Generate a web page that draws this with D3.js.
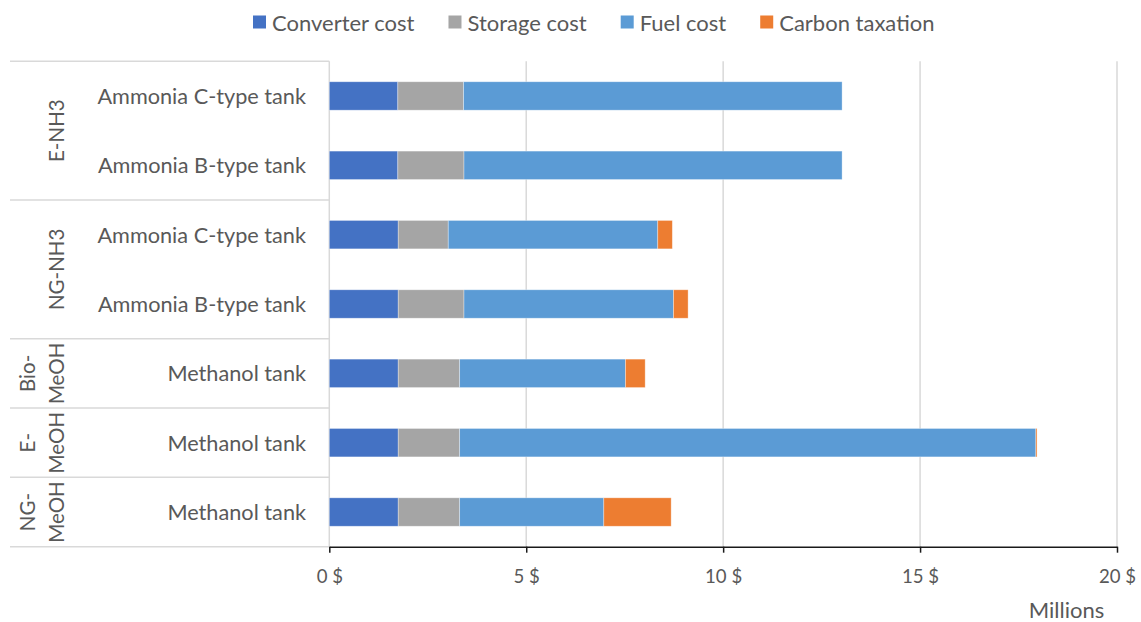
<!DOCTYPE html>
<html>
<head>
<meta charset="utf-8">
<script src="https://cdn.jsdelivr.net/npm/d3@7/dist/d3.min.js"></script>
<style>
  html, body { margin: 0; padding: 0; background: #fff; }
  svg { display: block; font-family: Lato, "Open Sans", sans-serif; }
</style>
</head>
<body>
<svg id="chart" width="1141" height="622"></svg>
<script>
// Cost breakdown per fuel pathway and tank type (millions of $)
const groups = [["E-NH3"], ["NG-NH3"], ["Bio-", "MeOH"], ["E-", "MeOH"], ["NG-", "MeOH"]];
const categories = ["Ammonia C-type tank", "Ammonia B-type tank", "Ammonia C-type tank", "Ammonia B-type tank", "Methanol tank", "Methanol tank", "Methanol tank"];
const groupOf = [0, 0, 1, 1, 2, 3, 4];
const seriesNames = ["Converter cost", "Storage cost", "Fuel cost", "Carbon taxation"];
const converterCost = [1.74, 1.74, 1.75, 1.75, 1.75, 1.75, 1.75];
const storageCost   = [1.67, 1.68, 1.27, 1.67, 1.56, 1.56, 1.56];
const fuelCost      = [9.61, 9.60, 5.32, 5.32, 4.21, 14.63, 3.66];
const carbonTax     = [0, 0, 0.37, 0.37, 0.50, 0.03, 1.71];
const xTicks = [0, 5, 10, 15, 20];
const xTickLabels = ["0 $", "5 $", "10 $", "15 $", "20 $"];
const colors = ["#4472C4", "#A5A5A5", "#5B9BD5", "#ED7D31"];

const svg = d3.select("#chart");
const textColor = "#595959";
const lineColor = "#D9D9D9";

const rows = categories.map((c, i) => ({
  i,
  "Converter cost": converterCost[i],
  "Storage cost": storageCost[i],
  "Fuel cost": fuelCost[i],
  "Carbon taxation": carbonTax[i]
}));

const x = d3.scaleLinear().domain([0, 20]).range([329.3, 1117]);
const y = d3.scaleBand()
  .domain(d3.range(categories.length))
  .range([61.3, 546.7])
  .paddingInner(0.59)
  .paddingOuter(0.295);

const step = y.step();
const rowTop = i => y(i) - y.paddingOuter() * step;
const tableLeft = 10;

// vertical gridlines
svg.append("g")
  .selectAll("line")
  .data(xTicks.slice(1))
  .join("line")
  .attr("x1", d => x(d)).attr("x2", d => x(d))
  .attr("y1", y.range()[0]).attr("y2", y.range()[1])
  .attr("stroke", lineColor).attr("stroke-width", 1.5);

// category table: group boundary lines and axis edge
const groupBounds = groups.map((g, gi) => {
  const idx = d3.range(categories.length).filter(i => groupOf[i] === gi);
  return { g, top: rowTop(idx[0]), bottom: rowTop(idx[idx.length - 1]) + step };
});
const boundaryYs = [groupBounds[0].top, ...groupBounds.map(b => b.bottom)];
svg.append("g")
  .selectAll("line")
  .data(boundaryYs)
  .join("line")
  .attr("x1", tableLeft).attr("x2", x(0))
  .attr("y1", d => d).attr("y2", d => d)
  .attr("stroke", lineColor).attr("stroke-width", 1.5);
svg.append("line")
  .attr("x1", x(0)).attr("x2", x(0))
  .attr("y1", y.range()[0]).attr("y2", y.range()[1])
  .attr("stroke", lineColor).attr("stroke-width", 1.5);

// stacked bars
const stack = d3.stack().keys(seriesNames)(rows);
svg.append("g")
  .selectAll("g")
  .data(stack)
  .join("g")
  .attr("fill", (d, k) => colors[k])
  .selectAll("rect")
  .data(d => d)
  .join("rect")
  .attr("x", d => x(d[0]))
  .attr("width", d => Math.max(0, x(d[1]) - x(d[0])))
  .attr("y", d => y(d.data.i))
  .attr("height", y.bandwidth())
  .attr("stroke", "#fff").attr("stroke-opacity", 0.45).attr("stroke-width", 0.75);

// category labels
svg.append("g")
  .selectAll("text")
  .data(categories)
  .join("text")
  .attr("x", 306)
  .attr("y", (d, i) => y(i) + y.bandwidth() / 2)
  .attr("text-anchor", "end")
  .attr("dominant-baseline", "central")
  .attr("fill", textColor)
  .style("font-size", "21.7px")
  .text(d => d);

// group labels (rotated)
const groupG = svg.append("g");
groupBounds.forEach(b => {
  const cy = (b.top + b.bottom) / 2;
  const xs = b.g.length === 1 ? [55.5] : [27, 55.5];
  b.g.forEach((line, li) => {
    groupG.append("text")
      .attr("transform", `translate(${xs[li]},${cy}) rotate(-90)`)
      .attr("text-anchor", "middle")
      .attr("dominant-baseline", "central")
      .attr("fill", textColor)
      .style("font-size", "20.5px")
      .text(line);
  });
});

// x axis
const xAxis = d3.axisBottom(x)
  .tickValues(xTicks)
  .tickFormat((d, i) => xTickLabels[i])
  .tickSize(6)
  .tickSizeOuter(0);
const axisG = svg.append("g")
  .attr("transform", `translate(0,${y.range()[1]})`)
  .call(xAxis);
axisG.select(".domain").attr("stroke", "#1a1a1a").attr("stroke-width", 1.5);
axisG.selectAll(".tick line").attr("stroke", "#1a1a1a").attr("stroke-width", 1.5);
axisG.selectAll(".tick text")
  .attr("y", 29)
  .attr("dy", null)
  .attr("dominant-baseline", "central")
  .attr("fill", textColor)
  .style("font-size", "18.6px")
  .style("font-family", "Lato, sans-serif");

svg.append("text")
  .attr("x", 1066.5).attr("y", 609)
  .attr("text-anchor", "middle")
  .attr("dominant-baseline", "central")
  .attr("fill", textColor)
  .style("font-size", "22px")
  .text("Millions");

// legend
const legend = svg.append("g");
let lx = 253;
seriesNames.forEach((name, k) => {
  legend.append("rect")
    .attr("x", lx).attr("y", 15.5)
    .attr("width", 13).attr("height", 13)
    .attr("fill", colors[k]);
  const t = legend.append("text")
    .attr("x", lx + 19).attr("y", 22)
    .attr("dominant-baseline", "central")
    .attr("fill", textColor)
    .style("font-size", "22px")
    .text(name);
  lx += 19 + t.node().getComputedTextLength() + 34;
});
</script>
</body>
</html>
